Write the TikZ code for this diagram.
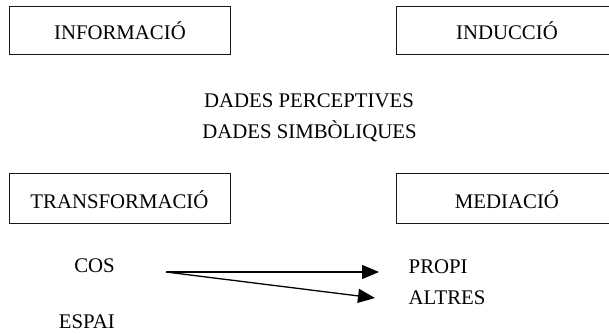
\documentclass[tikz,border=0pt]{standalone}
\usepackage{fontspec}
\setmainfont{Liberation Serif}
\usetikzlibrary{arrows.meta}
\begin{document}
\begin{tikzpicture}[x=1pt,y=-1pt,
  every node/.style={font=\fontsize{20.8}{24}\selectfont, text=black},
  box/.style={draw=black!90, line width=0.9pt, minimum width=221pt, inner sep=0pt, anchor=north west, text depth=0pt},
  lbl/.style={inner sep=0pt},
  arr/.style={line width=1.3pt, -{Triangle[length=17pt,width=14pt]}}]
\useasboundingbox[fill=white] (0,0) rectangle (609,334);
% boxes
\node[box, minimum height=48pt, text height=18pt] (info) at (9,6) {INFORMACIÓ};
\node[box, minimum height=48pt, text height=18pt] (induc) at (396,6) {INDUCCIÓ};
\node[box, minimum height=50pt, text height=21pt] (transf) at (8.5,173) {TRANSFORMACIÓ};
\node[box, minimum height=50pt, text height=21pt] (media) at (396,173) {MEDIACIÓ};
% middle labels
\node[lbl, anchor=base] (perc) at (309,107) {DADES PERCEPTIVES};
\node[lbl, anchor=base] (simb) at (309.5,138) {DADES SIMBÒLIQUES};
% lower labels
\node[lbl, anchor=base east] (cos) at (115,272) {COS};
\node[lbl, anchor=base east] (espai) at (115,328) {ESPAI};
\node[lbl, anchor=base west] (propi) at (408.5,273) {PROPI};
\node[lbl, anchor=base west] (altres) at (408.5,304) {ALTRES};
% arrows
\draw[arr] ([xshift=51pt]cos.base east) -- ([xshift=-29.5pt,yshift=1pt]propi.base west);
\draw[arr] ([xshift=51pt]cos.base east) -- ([xshift=-33.5pt,yshift=6pt]altres.base west);
\end{tikzpicture}
\end{document}
